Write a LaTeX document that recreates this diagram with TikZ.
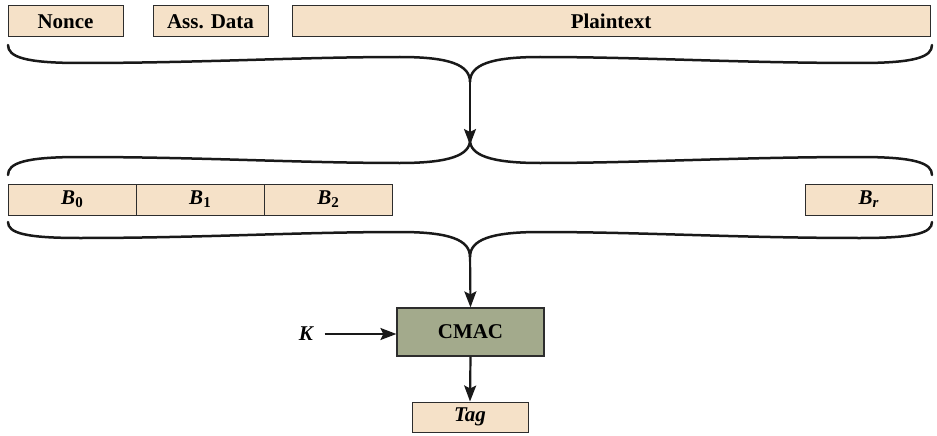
\documentclass[tikz,border=0pt]{standalone}
\usepackage{fontspec}
\setmainfont{Liberation Serif}
\usepackage{xcolor}
\usepackage{tikz}
\usetikzlibrary{arrows.meta,positioning}

\definecolor{peach}{RGB}{245,225,200}
\definecolor{cmacgreen}{RGB}{163,170,140}
\definecolor{edge}{RGB}{45,45,45}

\begin{document}
\begin{tikzpicture}[
  x=1pt, y=-1pt,
  field/.style={rectangle, draw=edge, line width=1pt, fill=peach, inner sep=0pt, minimum height=31pt, font=\fontsize{21}{23}\selectfont\bfseries},
  cmacbox/.style={rectangle, draw=edge, line width=1.2pt, fill=cmacgreen, inner sep=0pt, minimum width=147pt, minimum height=48pt, font=\fontsize{21}{23}\selectfont\bfseries},
  brace/.style={line width=2.5pt, draw=black!90, line cap=round},
  arrow/.style={-{Stealth[length=16pt,width=12pt,inset=3pt]}, line width=2.2pt, draw=black!90}
]
\useasboundingbox (0,0) rectangle (937,436);

% input fields
\node[field, minimum width=115pt] (nonce) at (65.5,21.5) {Nonce};
\node[field, minimum width=115pt] (assdata) at (210.5,21.5) {Ass. Data};
\node[field, minimum width=638pt] (plaintext) at (611,21.5) {Plaintext};

% formatted blocks
\node[field, minimum width=128pt] (b0) at (72,199.5) {\itshape B\raisebox{-0.3ex}{\upshape\fontsize{15}{15}\selectfont 0}};
\node[field, minimum width=128pt] (b1) at (200,199.5) {\itshape B\raisebox{-0.3ex}{\upshape\fontsize{15}{15}\selectfont 1}};
\node[field, minimum width=128pt] (b2) at (328,199.5) {\itshape B\raisebox{-0.3ex}{\upshape\fontsize{15}{15}\selectfont 2}};
\node[field, minimum width=127pt] (br) at (868.5,199.5) {\itshape B\raisebox{-0.3ex}{\fontsize{15}{15}\selectfont r}};

\node[cmacbox] (cmac) at (470.5,332) {CMAC};
\node[field, minimum width=116pt, minimum height=30pt] (tag) at (470,417) {\itshape Tag};
\node[font=\fontsize{21}{23}\selectfont\bfseries\itshape] (key) at (306,334) {K};

% braces
\coordinate (tip1) at (470,82);
\coordinate (tip2) at (470,140);
\coordinate (tip3) at (470,257);

\draw[brace] (8,45) .. controls (8,57) and (25,63) .. (80,63)
  .. controls (200,63) and (300,57) .. (400,57)
  .. controls (450,57) and (470,65) .. (tip1)
  .. controls (470,65) and (490,57) .. (540,57)
  .. controls (640,57) and (740,63) .. (860,63)
  .. controls (915,63) and (932,57) .. (932,45);
\draw[brace] (8,175) .. controls (8,163) and (25,157) .. (80,157)
  .. controls (200,157) and (300,163) .. (400,163)
  .. controls (450,163) and (470,155) .. (tip2)
  .. controls (470,155) and (490,163) .. (540,163)
  .. controls (640,163) and (740,157) .. (860,157)
  .. controls (915,157) and (932,163) .. (932,175);
\draw[brace] (8,222) .. controls (8,233) and (25,238) .. (80,238)
  .. controls (200,238) and (300,232) .. (400,232)
  .. controls (450,232) and (470,240) .. (tip3)
  .. controls (470,240) and (490,232) .. (540,232)
  .. controls (640,232) and (740,238) .. (860,238)
  .. controls (915,238) and (932,233) .. (932,222);

% arrows
\draw[arrow] ([yshift=6pt]tip1) -- ([yshift=-5pt]tip2);
\draw[arrow] ([yshift=6pt]tip3) -- (cmac.north);
\draw[arrow] ([xshift=8pt]key.east) -- (cmac.west |- key);
\draw[arrow] (cmac.south) -- (tag.north);

\end{tikzpicture}
\end{document}
